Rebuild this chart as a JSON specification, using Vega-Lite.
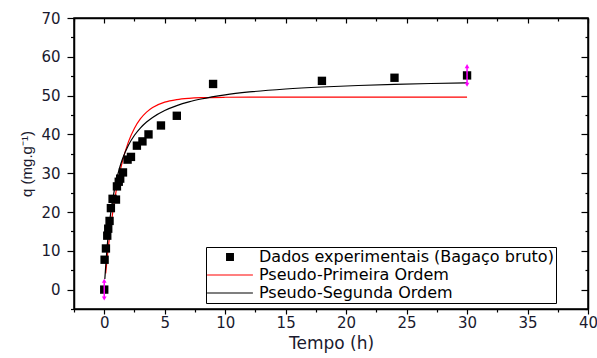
{
  "$schema": "https://vega.github.io/schema/vega-lite/v6.json",
  "width": 514,
  "height": 291,
  "autosize": {"type": "none"},
  "padding": {"left": 74, "top": 18, "right": 9, "bottom": 49},
  "background": "white",
  "config": {
    "view": {"stroke": "black", "strokeWidth": 1.5},
    "font": "DejaVu Sans",
    "legend": {
      "orient": "none",
      "legendX": 132,
      "legendY": 229,
      "strokeColor": "black",
      "fillColor": "white",
      "padding": 2,
      "labelFont": "DejaVu Sans",
      "labelFontSize": 16,
      "labelColor": "black",
      "labelLimit": 500,
      "labelOffset": 21,
      "symbolOffset": 14,
      "symbolType": "stroke",
      "symbolSize": 2100,
      "symbolStrokeWidth": 1.2,
      "rowPadding": 2,
      "titleFontSize": 0
    }
  },
  "datasets": {
    "exp": [
      {"t": 0, "q": 0, "serie": "Dados experimentais (Bagaço bruto)"},
      {"t": 0.03, "q": 7.7, "serie": "Dados experimentais (Bagaço bruto)"},
      {"t": 0.14, "q": 10.6, "serie": "Dados experimentais (Bagaço bruto)"},
      {"t": 0.25, "q": 13.9, "serie": "Dados experimentais (Bagaço bruto)"},
      {"t": 0.33, "q": 15.7, "serie": "Dados experimentais (Bagaço bruto)"},
      {"t": 0.44, "q": 17.7, "serie": "Dados experimentais (Bagaço bruto)"},
      {"t": 0.55, "q": 21.0, "serie": "Dados experimentais (Bagaço bruto)"},
      {"t": 0.69, "q": 23.4, "serie": "Dados experimentais (Bagaço bruto)"},
      {"t": 0.97, "q": 23.2, "serie": "Dados experimentais (Bagaço bruto)"},
      {"t": 1.05, "q": 26.6, "serie": "Dados experimentais (Bagaço bruto)"},
      {"t": 1.2, "q": 27.8, "serie": "Dados experimentais (Bagaço bruto)"},
      {"t": 1.32, "q": 28.6, "serie": "Dados experimentais (Bagaço bruto)"},
      {"t": 1.55, "q": 30.2, "serie": "Dados experimentais (Bagaço bruto)"},
      {"t": 1.93, "q": 33.5, "serie": "Dados experimentais (Bagaço bruto)"},
      {"t": 2.21, "q": 34.2, "serie": "Dados experimentais (Bagaço bruto)"},
      {"t": 2.7, "q": 37.1, "serie": "Dados experimentais (Bagaço bruto)"},
      {"t": 3.16, "q": 38.2, "serie": "Dados experimentais (Bagaço bruto)"},
      {"t": 3.66, "q": 40.0, "serie": "Dados experimentais (Bagaço bruto)"},
      {"t": 4.69, "q": 42.3, "serie": "Dados experimentais (Bagaço bruto)"},
      {"t": 6.0, "q": 44.8, "serie": "Dados experimentais (Bagaço bruto)"},
      {"t": 9.0, "q": 53.0, "serie": "Dados experimentais (Bagaço bruto)"},
      {"t": 18.0, "q": 53.8, "serie": "Dados experimentais (Bagaço bruto)"},
      {"t": 24.0, "q": 54.6, "serie": "Dados experimentais (Bagaço bruto)"},
      {"t": 30.0, "q": 55.2, "serie": "Dados experimentais (Bagaço bruto)"}
    ],
    "fits": [
      {"t": 0.12, "q": 4.17, "serie": "Pseudo-Primeira Ordem"},
      {"t": 0.25, "q": 8.27, "serie": "Pseudo-Primeira Ordem"},
      {"t": 0.5, "q": 15.17, "serie": "Pseudo-Primeira Ordem"},
      {"t": 0.75, "q": 20.91, "serie": "Pseudo-Primeira Ordem"},
      {"t": 1, "q": 25.7, "serie": "Pseudo-Primeira Ordem"},
      {"t": 1.25, "q": 29.69, "serie": "Pseudo-Primeira Ordem"},
      {"t": 1.5, "q": 33.01, "serie": "Pseudo-Primeira Ordem"},
      {"t": 2, "q": 38.08, "serie": "Pseudo-Primeira Ordem"},
      {"t": 2.5, "q": 41.6, "serie": "Pseudo-Primeira Ordem"},
      {"t": 3, "q": 44.05, "serie": "Pseudo-Primeira Ordem"},
      {"t": 3.5, "q": 45.75, "serie": "Pseudo-Primeira Ordem"},
      {"t": 4, "q": 46.93, "serie": "Pseudo-Primeira Ordem"},
      {"t": 5, "q": 48.31, "serie": "Pseudo-Primeira Ordem"},
      {"t": 6, "q": 48.98, "serie": "Pseudo-Primeira Ordem"},
      {"t": 7, "q": 49.3, "serie": "Pseudo-Primeira Ordem"},
      {"t": 8, "q": 49.46, "serie": "Pseudo-Primeira Ordem"},
      {"t": 10, "q": 49.57, "serie": "Pseudo-Primeira Ordem"},
      {"t": 12, "q": 49.6, "serie": "Pseudo-Primeira Ordem"},
      {"t": 15, "q": 49.6, "serie": "Pseudo-Primeira Ordem"},
      {"t": 20, "q": 49.6, "serie": "Pseudo-Primeira Ordem"},
      {"t": 25, "q": 49.6, "serie": "Pseudo-Primeira Ordem"},
      {"t": 30, "q": 49.6, "serie": "Pseudo-Primeira Ordem"},
      {"t": 0.05, "q": 2.73, "serie": "Pseudo-Segunda Ordem"},
      {"t": 0.25, "q": 11.39, "serie": "Pseudo-Segunda Ordem"},
      {"t": 0.5, "q": 18.88, "serie": "Pseudo-Segunda Ordem"},
      {"t": 0.75, "q": 24.17, "serie": "Pseudo-Segunda Ordem"},
      {"t": 1, "q": 28.1, "serie": "Pseudo-Segunda Ordem"},
      {"t": 1.25, "q": 31.15, "serie": "Pseudo-Segunda Ordem"},
      {"t": 1.5, "q": 33.58, "serie": "Pseudo-Segunda Ordem"},
      {"t": 2, "q": 37.2, "serie": "Pseudo-Segunda Ordem"},
      {"t": 2.5, "q": 39.78, "serie": "Pseudo-Segunda Ordem"},
      {"t": 3, "q": 41.7, "serie": "Pseudo-Segunda Ordem"},
      {"t": 3.5, "q": 43.19, "serie": "Pseudo-Segunda Ordem"},
      {"t": 4, "q": 44.38, "serie": "Pseudo-Segunda Ordem"},
      {"t": 5, "q": 46.17, "serie": "Pseudo-Segunda Ordem"},
      {"t": 6, "q": 47.43, "serie": "Pseudo-Segunda Ordem"},
      {"t": 7, "q": 48.39, "serie": "Pseudo-Segunda Ordem"},
      {"t": 8, "q": 49.12, "serie": "Pseudo-Segunda Ordem"},
      {"t": 10, "q": 50.2, "serie": "Pseudo-Segunda Ordem"},
      {"t": 12, "q": 50.94, "serie": "Pseudo-Segunda Ordem"},
      {"t": 15, "q": 51.7, "serie": "Pseudo-Segunda Ordem"},
      {"t": 18, "q": 52.22, "serie": "Pseudo-Segunda Ordem"},
      {"t": 21, "q": 52.6, "serie": "Pseudo-Segunda Ordem"},
      {"t": 24, "q": 52.89, "serie": "Pseudo-Segunda Ordem"},
      {"t": 27, "q": 53.12, "serie": "Pseudo-Segunda Ordem"},
      {"t": 30, "q": 53.3, "serie": "Pseudo-Segunda Ordem"}
    ],
    "err": [
      {"t": 0, "lo": -2.3, "hi": 2.3},
      {"t": 30, "lo": 52.8, "hi": 57.6}
    ]
  },
  "resolve": {"axis": {"x": "independent", "y": "independent"}},
  "layer": [
    {
      "data": {"name": "fits"},
      "mark": {"type": "line", "strokeWidth": 1.2, "interpolate": "monotone"},
      "encoding": {
        "x": {
          "field": "t", "type": "quantitative",
          "scale": {"domain": [-2.5, 40], "nice": false, "zero": false},
          "axis": {
            "orient": "bottom",
            "values": [-2.5, 0, 2.5, 5, 7.5, 10, 12.5, 15, 17.5, 20, 22.5, 25, 27.5, 30, 32.5, 35, 37.5, 40],
            "labelExpr": "datum.value % 5 === 0 ? datum.label : ''",
            "tickSize": {"condition": {"test": "datum.value % 5 === 0", "value": 5}, "value": 3},
            "tickColor": "black", "tickWidth": 1.2,
            "domainColor": "black", "domainWidth": 1.5,
            "labelFont": "DejaVu Sans", "labelFontSize": 15, "labelColor": "#1a1a2e",
            "labelPadding": 1, "labelFlush": false, "labelOverlap": false,
            "grid": false,
            "title": "Tempo (h)", "titleFont": "DejaVu Sans", "titleFontSize": 17,
            "titleFontWeight": "normal", "titleColor": "#1a1a2e", "titlePadding": 5
          }
        },
        "y": {
          "field": "q", "type": "quantitative",
          "scale": {"domain": [-5, 70], "nice": false, "zero": false},
          "axis": {
            "orient": "left",
            "values": [-5, 0, 5, 10, 15, 20, 25, 30, 35, 40, 45, 50, 55, 60, 65, 70],
            "labelExpr": "datum.value % 10 === 0 ? datum.label : ''",
            "tickSize": {"condition": {"test": "datum.value % 10 === 0", "value": 7}, "value": 3.5},
            "tickColor": "black", "tickWidth": 1.2,
            "domainColor": "black", "domainWidth": 1.5,
            "labelFont": "DejaVu Sans", "labelFontSize": 15, "labelColor": "#1a1a2e",
            "labelPadding": 7, "labelFlush": false, "labelOverlap": false,
            "grid": false,
            "title": "q (mg.g⁻¹)", "titleFont": "Liberation Sans", "titleFontSize": 15,
            "titleFontWeight": "normal", "titleColor": "#1a1a2e", "titlePadding": 6
          }
        },
        "color": {
          "field": "serie", "type": "nominal",
          "scale": {
            "domain": ["Dados experimentais (Bagaço bruto)", "Pseudo-Primeira Ordem", "Pseudo-Segunda Ordem"],
            "range": ["black", "#ff0000", "black"]
          },
          "legend": {
            "title": null,
            "encode": {
              "symbols": {
                "update": {
                  "shape": {"signal": "datum.value === 'Pseudo-Primeira Ordem' || datum.value === 'Pseudo-Segunda Ordem' ? 'stroke' : 'square'"},
                  "size": {"signal": "datum.value === 'Pseudo-Primeira Ordem' || datum.value === 'Pseudo-Segunda Ordem' ? 2100 : 45"},
                  "fill": {"signal": "datum.value === 'Pseudo-Primeira Ordem' || datum.value === 'Pseudo-Segunda Ordem' ? 'transparent' : 'black'"},
                  "stroke": {"signal": "datum.value === 'Pseudo-Primeira Ordem' ? '#ff0000' : 'black'"},
                  "strokeWidth": {"value": 1.2}
                }
              }
            }
          }
        }
      }
    },
    {
      "data": {"name": "exp"},
      "mark": {"type": "point", "shape": "square", "filled": true, "size": 70, "opacity": 1},
      "encoding": {
        "x": {"field": "t", "type": "quantitative", "axis": null},
        "y": {"field": "q", "type": "quantitative", "axis": null},
        "color": {"field": "serie", "type": "nominal"}
      }
    },
    {
      "data": {"name": "err"},
      "mark": {"type": "rule", "color": "#ff00ff", "strokeWidth": 1.5},
      "encoding": {
        "x": {
          "field": "t", "type": "quantitative",
          "axis": {
            "orient": "top",
            "values": [-2.5, 0, 2.5, 5, 7.5, 10, 12.5, 15, 17.5, 20, 22.5, 25, 27.5, 30, 32.5, 35, 37.5, 40],
            "labels": false, "title": null, "grid": false,
            "tickSize": {"condition": {"test": "datum.value % 5 === 0", "value": -5}, "value": -3},
            "tickColor": "black", "tickWidth": 1.2,
            "domainColor": "black", "domainWidth": 1.5
          }
        },
        "y": {
          "field": "lo", "type": "quantitative",
          "axis": {
            "orient": "right",
            "values": [-5, 0, 5, 10, 15, 20, 25, 30, 35, 40, 45, 50, 55, 60, 65, 70],
            "labels": false, "title": null, "grid": false,
            "tickSize": {"condition": {"test": "datum.value % 10 === 0", "value": -7}, "value": -3},
            "tickColor": "black", "tickWidth": 1.2,
            "domainColor": "black", "domainWidth": 1.5
          }
        },
        "y2": {"field": "hi"}
      }
    },
    {
      "data": {"name": "err"},
      "mark": {"type": "point", "shape": "triangle-up", "filled": true, "size": 22, "color": "#ff00ff", "opacity": 1},
      "encoding": {
        "x": {"field": "t", "type": "quantitative", "axis": null},
        "y": {"field": "hi", "type": "quantitative", "axis": null}
      }
    },
    {
      "data": {"name": "err"},
      "mark": {"type": "point", "shape": "triangle-down", "filled": true, "size": 22, "color": "#ff00ff", "opacity": 1},
      "encoding": {
        "x": {"field": "t", "type": "quantitative", "axis": null},
        "y": {"field": "lo", "type": "quantitative", "axis": null}
      }
    }
  ]
}
